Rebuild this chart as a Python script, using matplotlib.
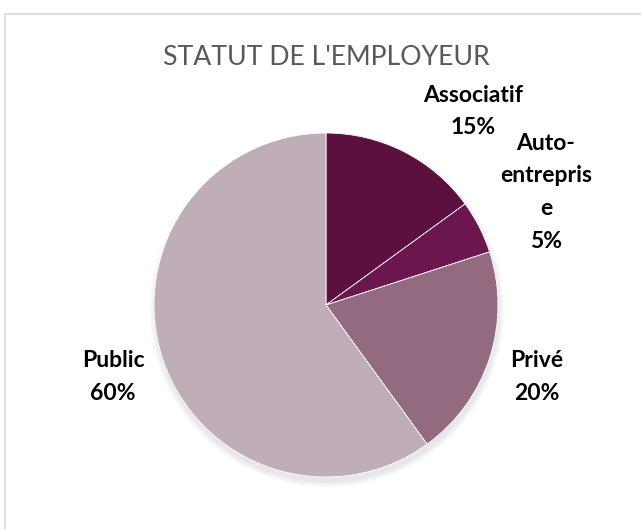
import numpy as np
import matplotlib.pyplot as plt
from matplotlib.patches import Rectangle, Circle

plt.rcParams['font.family'] = ['Lato', 'DejaVu Sans']

# data
categories = ['Associatif', 'Auto-entreprise', 'Privé', 'Public']
shown_names = ['Associatif', 'Auto-\nentrepris\ne', 'Privé', 'Public']
shares = [15, 5, 20, 60]
colors = ['#5C1040', '#6B164E', '#936A80', '#BFADB8']
title = "STATUT DE L'EMPLOYEUR"

# label spots: centre x and baseline of the first line (pixels from top)
label_xy = [(473, 102), (546, 150), (537, 367), (113, 367)]
line_gap = 32.5

W, H = 641, 529
fig = plt.figure(figsize=(W / 100, H / 100), dpi=100)
ax = fig.add_axes([0, 0, 1, 1])

# chart frame (runs off right and bottom)
ax.add_patch(Rectangle((4.5, -10), W + 20, H - 13.5 + 10, fill=False,
                       edgecolor='#D9D9D9', lw=1.2))

cx, cy, r = 326, H - 305, 172

# soft shadow, mostly below the pie
for k in range(8):
    ax.add_patch(Circle((cx + 1, cy - 5), r + k * 0.8, color='black',
                        alpha=0.012, lw=0, zorder=1))

ax.pie(shares, colors=colors, startangle=90, counterclock=False,
       center=(cx, cy), radius=r, frame=True,
       wedgeprops=dict(edgecolor='white', linewidth=0.6, zorder=2))
ax.set_xlim(0, W)
ax.set_ylim(0, H)
ax.set_aspect('equal')
ax.axis('off')

ax.text(326, H - 65, title, ha='center', va='baseline', fontsize=19.2,
        color='#595959')

for name, v, (x, y) in zip(shown_names, shares, label_xy):
    lines = name.split('\n') + [f'{v}%']
    for i, ln in enumerate(lines):
        ax.text(x, H - y - i * line_gap, ln, ha='center', va='baseline',
                fontsize=16.5, fontweight='bold', color='black')

fig.savefig('out.png', dpi=100)
